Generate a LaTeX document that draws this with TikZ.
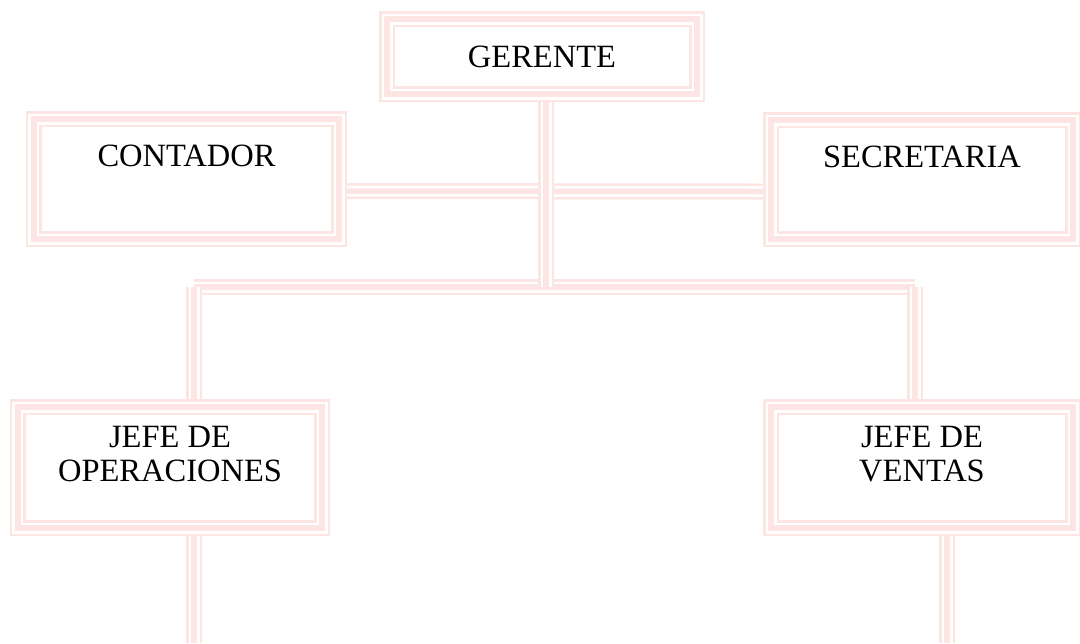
\documentclass[tikz,border=0pt]{standalone}
\usepackage{fontspec}
\setmainfont{Liberation Serif}
\usetikzlibrary{positioning}

\definecolor{rosa}{RGB}{252,229,226}

\tikzset{
  triple/.style={draw=rosa, line width=6.4pt,
    postaction={draw=white, line width=4.4pt},
    postaction={draw=rosa, line width=2.2pt}},
  caja/.style={triple, rectangle, inner sep=0pt},
  texto/.style={font=\fontsize{13}{13.6}\selectfont, align=center, inner sep=0pt}
}

\begin{document}
\begin{tikzpicture}[x=0.4pt, y=-0.4pt]
    \useasboundingbox (0,0) rectangle (1080,643);

    % Cajas
    \node[caja, minimum width=124pt, minimum height=30pt] (ger) at (542,56.5) {};
    \node[caja, minimum width=122pt, minimum height=48pt] (cont) at (186.5,179) {};
    \node[caja, minimum width=120.8pt, minimum height=47.6pt] (secr) at (922,179.5) {};
    \node[caja, minimum width=121.6pt, minimum height=48.4pt] (oper) at (170,467.5) {};
    \node[caja, minimum width=120.8pt, minimum height=48.4pt] (vent) at (922,467.5) {};

    % Textos
    \node[texto] (gerT) at (ger) {GERENTE};
    \node[texto, below=13.4pt of cont.north] (contT) {CONTADOR};
    \node[texto, below=13.4pt of secr.north] (secrT) {SECRETARIA};
    \node[texto, below=10.6pt of oper.north] (operT) {JEFE DE\\OPERACIONES};
    \node[texto, below=10.6pt of vent.north] (ventT) {JEFE DE\\VENTAS};

    % Puntos de union
    \coordinate (busL) at (194,287);
    \coordinate (busM) at (546,287);
    \coordinate (busR) at (915,287);
    \coordinate (finL) at (194,643);
    \coordinate (finR) at (947,643);

    % Conexiones
    \draw[triple] ([yshift=-4.8pt]cont.east) -- ([yshift=-4.8pt]secr.west);
    \draw[triple] (busL) -- (busR);
    \draw[triple] (ger.south -| busM) -- (busM);
    \draw[triple] (busL) -- (busL |- oper.north);
    \draw[triple] (busR) -- (busR |- vent.north);
    \draw[triple] (busL |- oper.south) -- (finL);
    \draw[triple] (finR |- vent.south) -- (finR);
\end{tikzpicture}
\end{document}
